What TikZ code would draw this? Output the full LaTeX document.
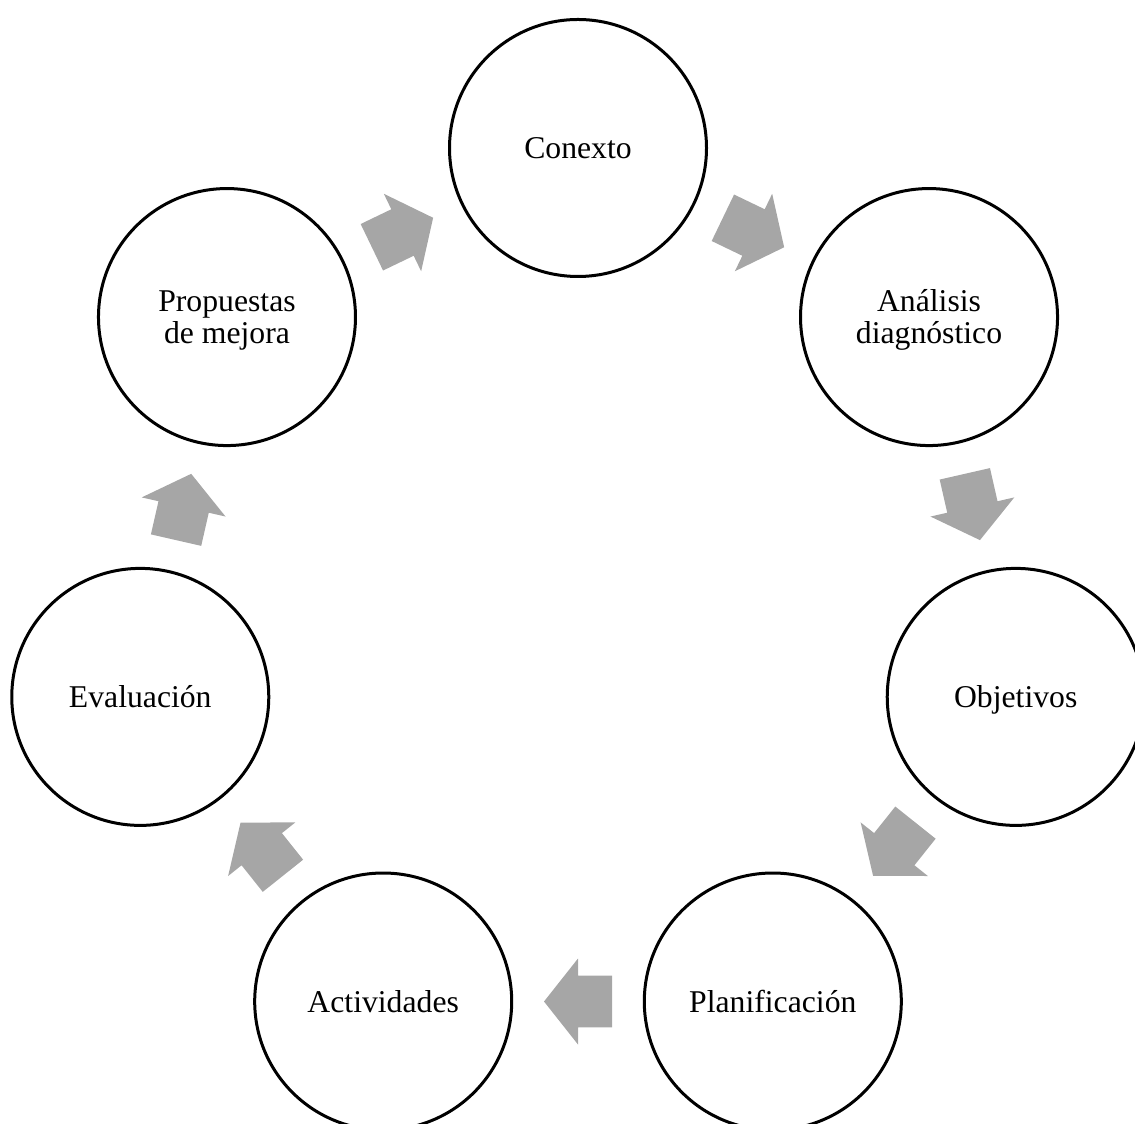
\documentclass[tikz,border=0pt]{standalone}
\usepackage{fontspec}
\setmainfont{Liberation Serif}
\usetikzlibrary{calc}
\definecolor{arrowgray}{RGB}{166,166,166}
\tikzset{
  stage/.style={circle, draw=black, line width=3pt, fill=white,
    minimum size=257pt, inner sep=0pt,
    font=\fontsize{31.7}{32.3}\selectfont, align=center,
    text height=21pt, text depth=0pt},
  stagetwo/.style={stage, text height=53.3pt, text depth=0pt},
  cyclearrow/.style={fill=arrowgray}
}
\newcommand\blockarrow[2]{%
  \fill[cyclearrow] let \p1=($(#2)-(#1)$), \n1={atan2(\y1,\x1)},
      \p2=($(#1)!0.5!(#2)$) in
    ($(\p2)+(\n1:34pt)$)
    -- ($(\p2)+(\n1+90:43pt)$)
    -- ($(\p2)+(\n1+90:25.8pt)$)
    -- ($(\p2)+(\n1+90:25.8pt)+(\n1+180:34pt)$)
    -- ($(\p2)+(\n1-90:25.8pt)+(\n1+180:34pt)$)
    -- ($(\p2)+(\n1-90:25.8pt)$)
    -- ($(\p2)+(\n1-90:43pt)$)
    -- cycle;}
\begin{document}
\begin{tikzpicture}[x=1pt,y=1pt]
\useasboundingbox (0,0) rectangle (1135,1124);
\clip (0,0) rectangle (1135,1124);
\coordinate (ctr) at (578,527);
\node[stage]    (conexto)   at ($(ctr)+(90:449)$) {Conexto};
\node[stagetwo] (analisis)  at ($(ctr)+(38.5714:449)$) {Análisis\\diagnóstico};
\node[stage]    (objetivos) at ($(ctr)+(-12.8571:449)$) {Objetivos};
\node[stage]    (planif)    at ($(ctr)+(-64.2857:449)$) {Planificación};
\node[stage]    (activ)     at ($(ctr)+(-115.7143:449)$) {Actividades};
\node[stage]    (evalua)    at ($(ctr)+(-167.1429:449)$) {Evaluación};
\node[stagetwo] (propuestas) at ($(ctr)+(141.4286:449)$) {Propuestas\\de mejora};
\blockarrow{conexto}{analisis}
\blockarrow{analisis}{objetivos}
\blockarrow{objetivos}{planif}
\blockarrow{planif}{activ}
\blockarrow{activ}{evalua}
\blockarrow{evalua}{propuestas}
\blockarrow{propuestas}{conexto}
\end{tikzpicture}
\end{document}
